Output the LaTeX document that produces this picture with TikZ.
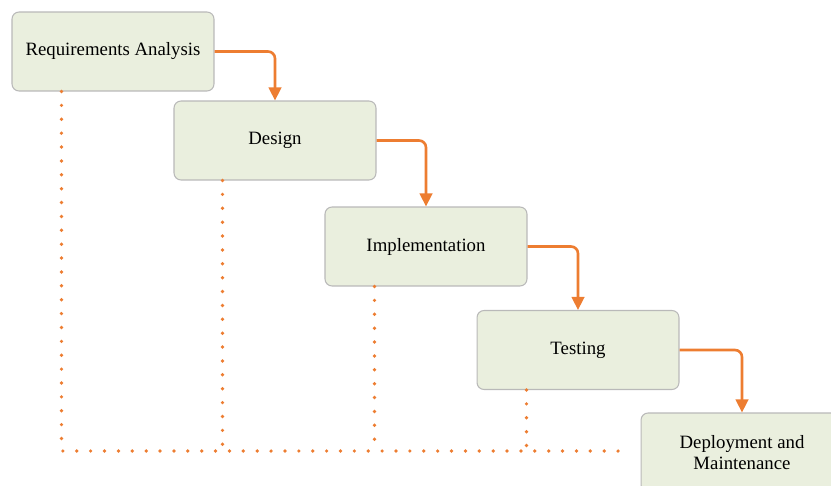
\documentclass[tikz,border=0pt]{standalone}
\usepackage{fontspec}
\setmainfont{Liberation Serif}
\usetikzlibrary{calc}
\usetikzlibrary{positioning}
\usetikzlibrary{arrows.meta}
\definecolor{phasefill}{RGB}{234,239,222}
\definecolor{phaseedge}{RGB}{185,185,185}
\definecolor{flowor}{RGB}{237,125,49}
\tikzset{
  phase/.style={draw=phaseedge, fill=phasefill, rounded corners=4pt, line width=0.6pt,
    minimum width=4.04cm, minimum height=1.58cm, align=center, inner sep=0pt,
    font=\fontsize{10.7}{11.6}\selectfont},
  flow/.style={draw=flowor, line width=1.5pt, rounded corners=4pt,
    -{Triangle[length=0.26cm,width=0.25cm]}},
  dots/.style={draw=flowor, line width=2.1pt, line cap=round, dash pattern=on 0pt off 7.9pt}
}
\begin{document}
\begin{tikzpicture}[x=0.02cm,y=-0.02cm]
\useasboundingbox (0,0) rectangle (831,486);
\clip (0,0) rectangle (831,486);
% The five phases
\node[phase] (req) at (113,51.5) {Requirements Analysis};
\node[phase] (des) at (275,140.5) {Design};
\node[phase] (imp) at (426,246.5) {Implementation};
\node[phase] (tst) at (578,350) {Testing};
\node[phase] (dep) at (742,452.5) {Deployment and\\Maintenance};
% Dotted return lines
\coordinate (base) at (630,451);
\coordinate (r1) at ($(req.south west)+(50,0)$);
\coordinate (r2) at ($(des.south west)+(49,0)$);
\coordinate (r3) at ($(imp.south west)+(50,0)$);
\coordinate (r4) at ($(tst.south west)+(50,0)$);
\draw[dots] (r1) |- (base);
\draw[dots] (r2) -- (r2 |- base);
\draw[dots] (r3) -- (r3 |- base);
\draw[dots] (r4) -- (r4 |- base);
%% Flow arrows between phases
\draw[flow] (req.east) -| (des.north);
\draw[flow] (des.east) -| (imp.north);
\draw[flow] (imp.east) -| (tst.north);
\draw[flow] (tst.east) -| (dep.north);
\end{tikzpicture}
\end{document}
